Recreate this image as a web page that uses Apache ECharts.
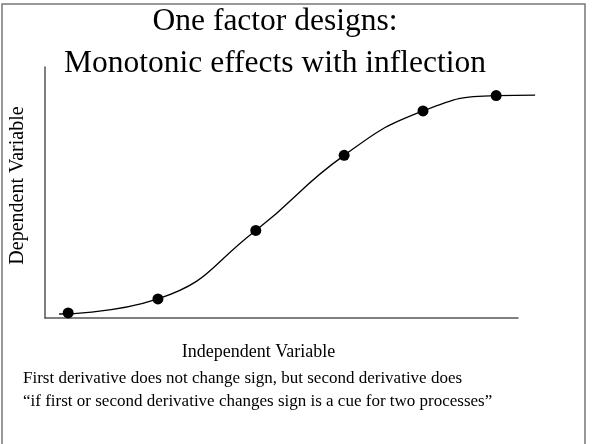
<!DOCTYPE html>
<html>
<head>
<meta charset="utf-8">
<title>One factor designs</title>
<script src="https://cdn.jsdelivr.net/npm/echarts@6/dist/echarts.min.js"></script>
<style>
  html, body { margin: 0; height: 100%; background: #fff; }
  #main { width: 593px; height: 444px; }
</style>
</head>
<body>
<div id="main"></div>
<script>
  // observed points (x = level of independent variable, y = response)
  var pointX = [0.53, 2.42, 4.48, 6.34, 8.0, 9.54];
  var pointY = [0.20, 0.76, 3.49, 6.48, 8.25, 8.86];
  // fitted curve; runs a bit past both end points
  var curveX = [0.34, 2.42, 4.48, 6.34, 8.0, 9.54, 10.36];
  var curveY = [0.16, 0.76, 3.49, 6.48, 8.25, 8.86, 8.88];

  var titleLines = ['One factor designs:', 'Monotonic effects with inflection'];
  var noteLines = [
    'First derivative does not change sign, but second derivative does',
    '\u201cif first or second derivative changes sign is a cue for two processes\u201d'
  ];

  var serif = '"Liberation Serif", "DejaVu Serif", serif';

  function pairs(xs, ys) {
    var out = [];
    for (var i = 0; i < xs.length; i++) out.push([xs[i], ys[i]]);
    return out;
  }

  // grid 0 carries the drawn axes, grid 1 (same scale, a little wider) carries the data
  // so the curve can run past the end of the x axis line like in the slide
  var axisMax = 10;
  var dataMax = axisMax * (535 - 43) / (518 - 43);

  var hidden = {
    axisLine: { show: false }, axisTick: { show: false },
    axisLabel: { show: false }, splitLine: { show: false }
  };

  var chart = echarts.init(document.getElementById('main'), null, { renderer: 'canvas' });
  chart.setOption({
    animation: false,
    backgroundColor: '#fff',
    title: {
      text: titleLines.join('\n'),
      left: 270,
      top: -4,
      textAlign: 'center',
      textStyle: { fontFamily: serif, fontSize: 31.5, fontWeight: 'normal', color: '#000', lineHeight: 42 }
    },
    grid: [
      { left: 43, top: 67, right: 75, bottom: 126 },
      { left: 43, top: 67, right: 58, bottom: 126 }
    ],
    xAxis: [
      {
        gridIndex: 0, type: 'value', min: 0, max: axisMax,
        name: 'Independent Variable',
        nameLocation: 'middle', nameGap: 25,
        nameTextStyle: { fontFamily: serif, fontSize: 18, color: '#000', padding: [0, 46, 0, 0] },
        axisLine: { lineStyle: { color: '#555', width: 1.5 } },
        axisTick: { show: false }, axisLabel: { show: false }, splitLine: { show: false }
      },
      Object.assign({ gridIndex: 1, type: 'value', min: 0, max: dataMax }, hidden)
    ],
    yAxis: [
      {
        gridIndex: 0, type: 'value', min: 0, max: 10,
        name: 'Dependent Variable',
        nameLocation: 'middle', nameGap: 17,
        nameTextStyle: { fontFamily: serif, fontSize: 20, color: '#000', padding: [0, 0, 0, 14] },
        axisLine: { show: true, lineStyle: { color: '#555', width: 1.5 } },
        axisTick: { show: false }, axisLabel: { show: false }, splitLine: { show: false }
      },
      Object.assign({ gridIndex: 1, type: 'value', min: 0, max: 10 }, hidden)
    ],
    graphic: [
      {
        type: 'rect', silent: true,
        shape: { x: 2, y: 4, width: 583, height: 460 },
        style: { fill: null, stroke: '#777', lineWidth: 1.5 }
      },
      {
        type: 'text', left: 23, top: 367, silent: true,
        style: { text: noteLines.join('\n'), font: '17px ' + serif, fill: '#000', lineHeight: 23 }
      }
    ],
    series: [
      {
        type: 'line', xAxisIndex: 1, yAxisIndex: 1,
        data: pairs(curveX, curveY), smooth: 0.5,
        showSymbol: false, lineStyle: { color: '#000', width: 1.3 }
      },
      {
        type: 'scatter', xAxisIndex: 1, yAxisIndex: 1,
        data: pairs(pointX, pointY), symbolSize: 11,
        itemStyle: { color: '#000', opacity: 1 }
      }
    ]
  });
</script>
</body>
</html>
